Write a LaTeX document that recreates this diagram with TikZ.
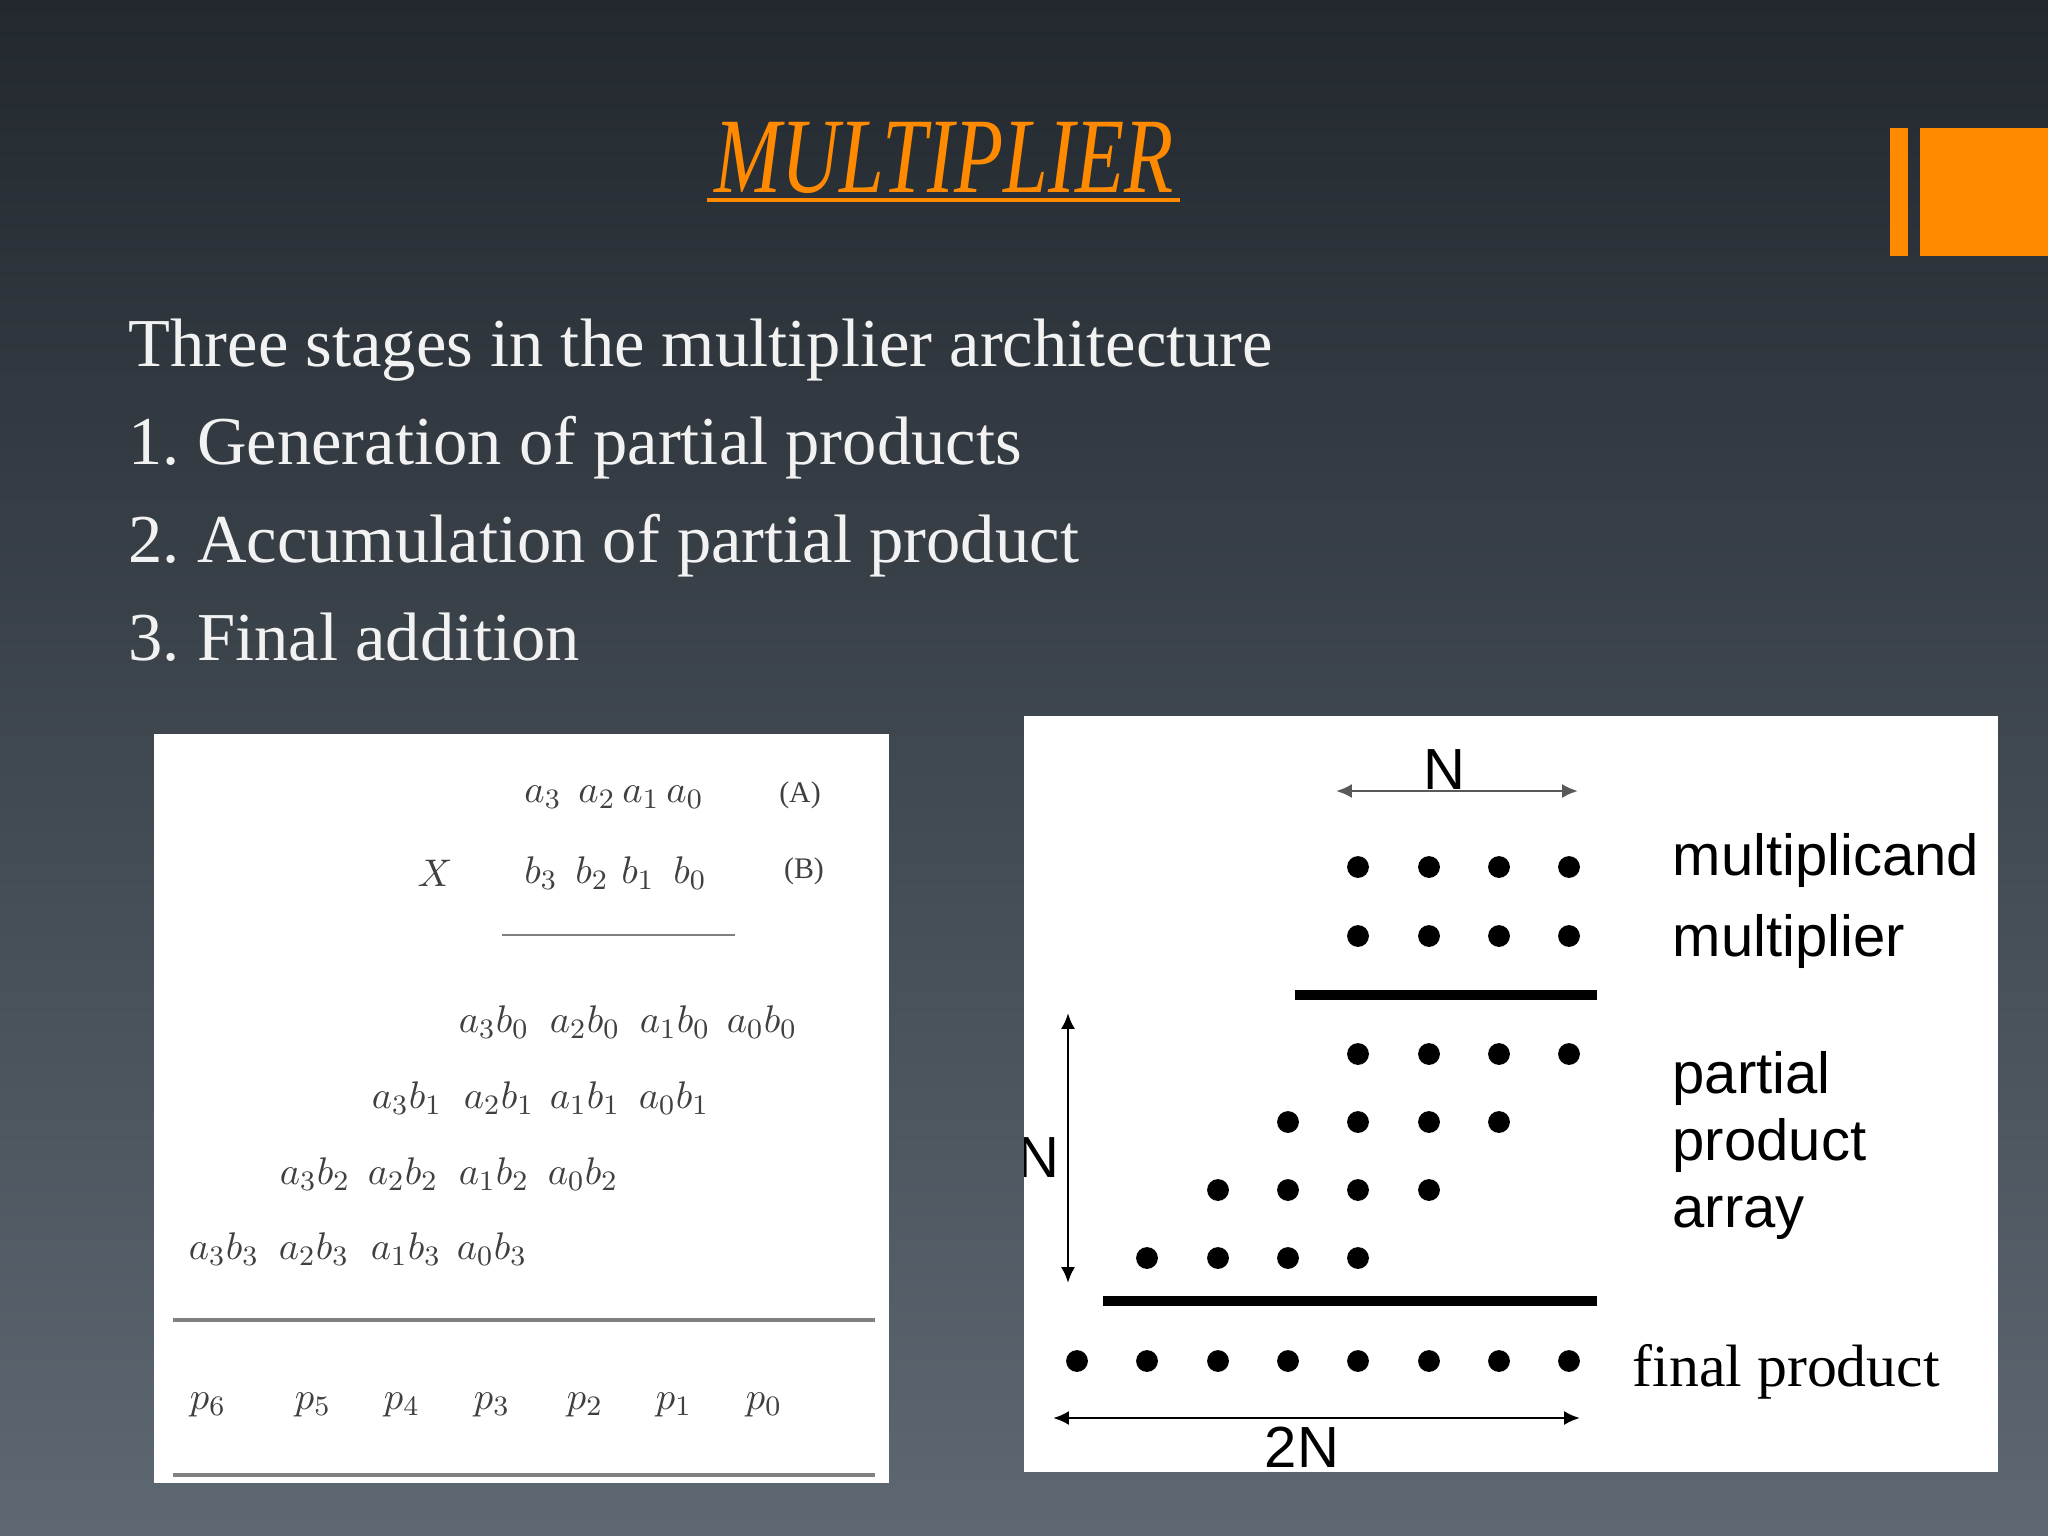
\documentclass[tikz,border=0pt]{standalone}
\usepackage{fontspec}
\setmainfont{Liberation Serif}
\newfontfamily\arialfont{Liberation Sans}
\usetikzlibrary{arrows.meta}
\definecolor{bgtop}{HTML}{22282E}
\definecolor{bgmid}{HTML}{2A3036}
\definecolor{bgbot}{HTML}{5E6872}
\definecolor{titleorange}{HTML}{FF8A00}
\definecolor{inkgray}{HTML}{404040}
\definecolor{rulegray}{HTML}{808080}
\frenchspacing

\begin{document}
\begin{tikzpicture}[x=0.01cm, y=-0.01cm,
  body/.style={anchor=base west, inner sep=0pt, text=white!95!black, font=\fontsize{19.5}{23}\selectfont},
  term/.style={text=inkgray, inner sep=0pt, font=\fontsize{11}{13}\selectfont},
  dot/.style={circle, fill=black, inner sep=0pt, minimum size=6.2pt},
  sidetext/.style={anchor=base west, inner sep=0pt, font=\arialfont\fontsize{16.5}{19}\selectfont},
  dimarrow/.style={{Latex[length=4.5pt,width=4pt]}-{Latex[length=4.5pt,width=4pt]}, line width=0.8pt}]
  \useasboundingbox (0,0) rectangle (2048,1536);
  \shade[top color=bgtop, middle color=bgmid, bottom color=bgbot] (0,0) rectangle (2048,1536);

  % title and bars
  \node[anchor=base, inner sep=0pt, text=titleorange, font=\fontsize{30.5}{36}\selectfont] (T) at (944,192)
    {\scalebox{0.75}[1]{\itshape MULTIPLIER}};
  \draw[titleorange, line width=1.1pt] (707,200) -- (1180,200);
  \fill[titleorange] (1890,128) rectangle (1908,256);
  \fill[titleorange] (1920,128) rectangle (2048,256);

  \node[body] (L1) at (128,366) {Three stages in the multiplier architecture};
  \node[body] (L2) at (128,464) {1. Generation of partial products};
  \node[body] (L3) at (128,562) {2. Accumulation of partial product};
  \node[body] (L4) at (128,660) {3. Final addition};

  % left panel
  \fill[white] (154,734) rectangle (889,1483);

  \node[term] (A3) at (543,797) {$a_3$};
  \node[term] (A2) at (597,797) {$a_2$};
  \node[term] (A1) at (641,797) {$a_1$};
  \node[term] (A0) at (685,797) {$a_0$};
  \node[term, font=\fontsize{8.5}{10}\selectfont] (A) at (800,795) {(A)};

  \node[term] (X) at (435,873) {$X$};
  \node[term] (B3) at (541,873) {$b_3$};
  \node[term] (B2) at (592,873) {$b_2$};
  \node[term] (B1) at (638,873) {$b_1$};
  \node[term] (B0) at (690,873) {$b_0$};
  \node[term, font=\fontsize{8.5}{10}\selectfont] (B) at (804,871) {(B)};

  \draw[rulegray, line width=0.8pt] (502,935) -- (735,935);

  \node[term] (C) at (494,1022) {$a_3b_0$};
  \node[term] (D) at (585,1022) {$a_2b_0$};
  \node[term] (E) at (675,1022) {$a_1b_0$};
  \node[term] (F) at (762,1022) {$a_0b_0$};

  \node[term] (G) at (407,1098) {$a_3b_1$};
  \node[term] (H) at (499,1098) {$a_2b_1$};
  \node[term] (I) at (585,1098) {$a_1b_1$};
  \node[term] (J) at (674,1098) {$a_0b_1$};

  \node[term] (K) at (315,1174) {$a_3b_2$};
  \node[term] (L) at (403,1174) {$a_2b_2$};
  \node[term] (M) at (494,1174) {$a_1b_2$};
  \node[term] (N) at (583,1174) {$a_0b_2$};

  \node[term] (O) at (224,1249) {$a_3b_3$};
  \node[term] (P) at (314,1249) {$a_2b_3$};
  \node[term] (Q) at (406,1249) {$a_1b_3$};
  \node[term] (R) at (492,1249) {$a_0b_3$};

  \draw[rulegray, line width=0.9pt] (173,1320) -- (875,1320);

  \node[term] (P6) at (208,1405) {$p_6$};
  \node[term] (P5) at (313,1405) {$p_5$};
  \node[term] (P4) at (402,1405) {$p_4$};
  \node[term] (P3) at (492,1405) {$p_3$};
  \node[term] (P2) at (585,1405) {$p_2$};
  \node[term] (P1) at (674,1405) {$p_1$};
  \node[term] (P0) at (764,1405) {$p_0$};

  \draw[rulegray, line width=0.9pt] (173,1475) -- (875,1475);

  % right panel
  \fill[white] (1024,716) rectangle (1998,1472);
  \begin{scope}
  \clip (1024,716) rectangle (1998,1472);

  \coordinate (NL) at (1336,791);
  \coordinate (NR) at (1578,791);
  \draw[dimarrow, draw=black!65] (NL) -- (NR);
  \node[sidetext, anchor=base] (Ntop) at (1444,789) {N};

  \node[dot] (M1) at (1358,867) {};
  \node[dot] (M2) at (1429,867) {};
  \node[dot] (M3) at (1499,867) {};
  \node[dot] (M4) at (1569,867) {};
  \node[sidetext] (mc) at (1672,875) {multiplicand};

  \node[dot] (R1) at (1358,936) {};
  \node[dot] (R2) at (1429,936) {};
  \node[dot] (R3) at (1499,936) {};
  \node[dot] (R4) at (1569,936) {};
  \node[sidetext] (mp) at (1672,956) {multiplier};

  \draw[line width=2.6pt] (1295,995) -- (1597,995);

  \node[dot] (S1) at (1358,1054) {};
  \node[dot] (S2) at (1429,1054) {};
  \node[dot] (S3) at (1499,1054) {};
  \node[dot] (S4) at (1569,1054) {};

  \node[dot] (U1) at (1288,1122) {};
  \node[dot] (U2) at (1358,1122) {};
  \node[dot] (U3) at (1429,1122) {};
  \node[dot] (U4) at (1499,1122) {};

  \node[dot] (V1) at (1218,1190) {};
  \node[dot] (V2) at (1288,1190) {};
  \node[dot] (V3) at (1358,1190) {};
  \node[dot] (V4) at (1429,1190) {};

  \node[dot] (W1) at (1147,1258) {};
  \node[dot] (W2) at (1218,1258) {};
  \node[dot] (W3) at (1288,1258) {};
  \node[dot] (W4) at (1358,1258) {};

  \node[sidetext] (pa) at (1672,1093) {partial};
  \node[sidetext] (pr) at (1672,1160) {product};
  \node[sidetext] (ar) at (1672,1227) {array};

  \coordinate (NT) at (1068,1013);
  \coordinate (NB) at (1068,1283);
  \draw[dimarrow] (NT) -- (NB);
  \node[sidetext, anchor=base east] (Nside) at (1060,1177) {N};

  \draw[line width=2.6pt] (1103,1301) -- (1597,1301);

  \node[dot] (F1) at (1077,1361) {};
  \node[dot] (F2) at (1147,1361) {};
  \node[dot] (F3) at (1218,1361) {};
  \node[dot] (F4) at (1288,1361) {};
  \node[dot] (F5) at (1358,1361) {};
  \node[dot] (F6) at (1429,1361) {};
  \node[dot] (F7) at (1499,1361) {};
  \node[dot] (F8) at (1569,1361) {};
  \node[anchor=base west, inner sep=0pt, font=\fontsize{17}{20}\selectfont] (fp) at (1632,1386) {final product};

  \coordinate (WL) at (1053,1418);
  \coordinate (WR) at (1580,1418);
  \draw[dimarrow] (WL) -- (WR);
  \node[sidetext, anchor=base] (twoN) at (1302,1467) {2N};
  \end{scope}

\end{tikzpicture}
\end{document}
